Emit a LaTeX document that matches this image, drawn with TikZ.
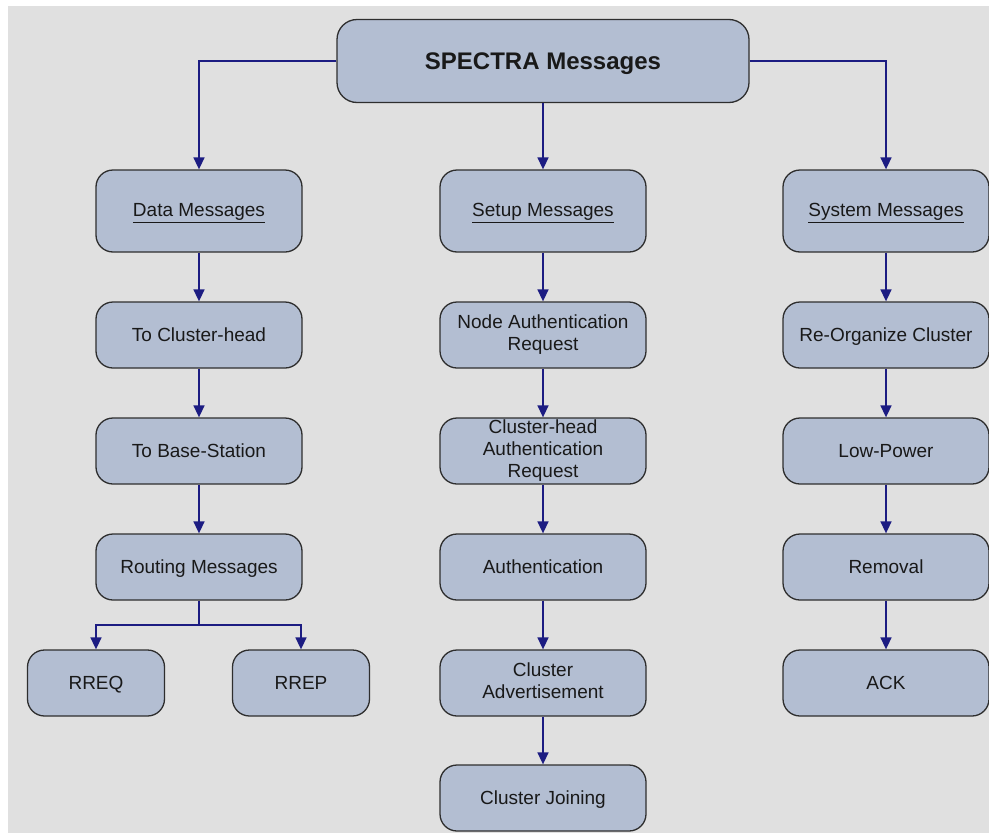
\documentclass[tikz,border=0pt]{standalone}
\usepackage{fontspec}
\setmainfont{Liberation Sans}
\usetikzlibrary{arrows.meta}
\definecolor{boxfill}{HTML}{B3BED2}
\definecolor{boxline}{HTML}{2E2E2E}
\definecolor{pagebg}{HTML}{E0E0E0}
\definecolor{linkblue}{HTML}{1C1C82}
% invisible rules so that capitals sit in the middle of each box
\newcommand{\capstop}{\rule{0pt}{0.92em}}
\newcommand{\capsbot}{\rule[-0.24em]{0pt}{0pt}}
\tikzset{
  msg/.style={draw=boxline, line width=1.3pt, fill=boxfill, rounded corners=17pt,
    minimum width=206pt, minimum height=66pt, inner sep=1pt, align=center,
    font=\fontsize{19}{22}\selectfont, text=black!90,
    execute at begin node=\capstop, execute at end node=\capsbot},
  head/.style={msg, minimum height=82pt},
  leaf/.style={msg, minimum width=137pt},
  root/.style={msg, minimum width=412pt, minimum height=83pt, rounded corners=20pt,
    font=\fontsize{24}{28}\selectfont\bfseries},
  conn/.style={draw=linkblue, line width=1.6pt, -{Triangle[length=12pt,width=11pt]}},
  link/.style={draw=linkblue, line width=1.6pt}
}
\begin{document}
\begin{tikzpicture}[x=1pt, y=-1pt]
  % canvas
  \useasboundingbox (0,0) rectangle (989,833);
  \fill[white] (0,0) rectangle (989,833);
  \fill[pagebg] (8,6) rectangle (989,833);

  % top
  \node[root] (spectra) at (543,61) {SPECTRA Messages};

  % category heads
  \node[head] (data)  at (199,211) {\underline{Data Messages}};
  \node[head] (setup) at (543,211) {\underline{Setup Messages}};
  \node[head] (sys)   at (886,211) {\underline{System Messages}};

  % data branch
  \node[msg] (tocl)  at (199,335) {To Cluster-head};
  \node[msg] (tobs)  at (199,451) {To Base-Station};
  \node[msg] (rout)  at (199,567) {Routing Messages};
  \node[leaf] (rreq) at (96,683)  {RREQ};
  \node[leaf] (rrep) at (301,683) {RREP};

  % setup branch
  \node[msg] (nauth) at (543,335) {Node Authentication\\Request};
  \node[msg] (cauth) at (543,451) {Cluster-head\\Authentication\\Request};
  \node[msg] (auth)  at (543,567) {Authentication};
  \node[msg] (cadv)  at (543,683) {Cluster\\Advertisement};
  \node[msg] (cjoin) at (543,798) {Cluster Joining};

  % system branch
  \node[msg] (reorg) at (886,335) {Re-Organize Cluster};
  \node[msg] (lowp)  at (886,451) {Low-Power};
  \node[msg] (remv)  at (886,567) {Removal};
  \node[msg] (ack)   at (886,683) {ACK};

  % connectors
  \draw[conn] (spectra.west) -| (data.north);
  \draw[conn] (spectra.south) -- (setup.north);
  \draw[conn] (spectra.east) -| (sys.north);

  \draw[conn] (data) -- (tocl);
  \draw[conn] (tocl) -- (tobs);
  \draw[conn] (tobs) -- (rout);
  \coordinate (split) at (199,625);
  \draw[link] (rout.south) -- (split);
  \draw[conn] (split) -| (rreq.north);
  \draw[conn] (split) -| (rrep.north);

  \draw[conn] (setup) -- (nauth);
  \draw[conn] (nauth) -- (cauth);
  \draw[conn] (cauth) -- (auth);
  \draw[conn] (auth) -- (cadv);
  \draw[conn] (cadv) -- (cjoin);

  \draw[conn] (sys) -- (reorg);
  \draw[conn] (reorg) -- (lowp);
  \draw[conn] (lowp) -- (remv);
  \draw[conn] (remv) -- (ack);
\end{tikzpicture}
\end{document}
